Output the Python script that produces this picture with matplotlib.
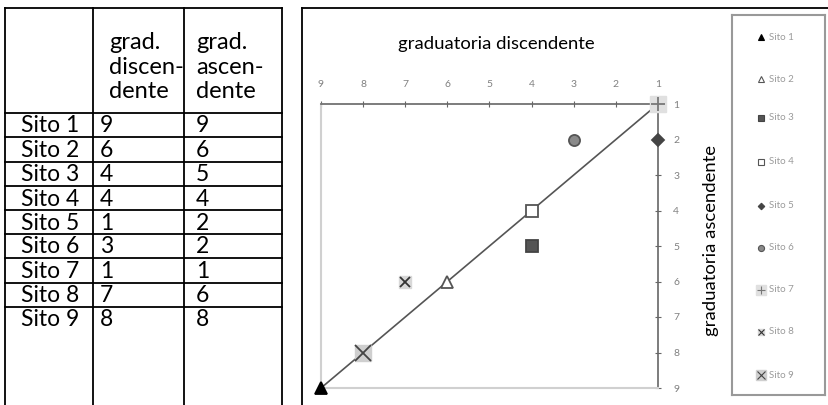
import matplotlib
matplotlib.use("Agg")
import matplotlib.pyplot as plt
from matplotlib.lines import Line2D

# ---------------- data ----------------
sites = ["Sito 1", "Sito 2", "Sito 3", "Sito 4", "Sito 5", "Sito 6", "Sito 7", "Sito 8", "Sito 9"]
grad_disc = [9, 6, 4, 4, 1, 3, 1, 7, 8]
grad_asc = [9, 6, 5, 4, 2, 2, 1, 6, 8]
header_disc = "grad.\ndiscen-\ndente"
header_asc = "grad.\nascen-\ndente"
ticks = [1, 2, 3, 4, 5, 6, 7, 8, 9]
diag = [1, 9]
title_top = "graduatoria discendente"
title_right = "graduatoria ascendente"

# marker styles per site: (marker, face, edge, size, background square)
styles = [
    ("^", "black", "black", 8, None),
    ("^", "white", "#555555", 8, None),
    ("s", "#555555", "#444444", 8, None),
    ("s", "white", "#555555", 9, None),
    ("D", "#444444", "#444444", 6, None),
    ("o", "#8a8a8a", "#555555", 8, None),
    ("+", "#777777", "#777777", 10, "#e0e0e0"),
    ("x", "#333333", "#333333", 7, "#d8d8d8"),
    ("x", "#444444", "#444444", 11, "#cfcfcf"),
]

W, H = 829, 405
fig = plt.figure(figsize=(W / 100, H / 100), dpi=100)
FONT = ["Lato", "DejaVu Sans"]

def fx(px):
    return px / W

def fy(py):
    return 1 - py / H

# ---------------- table ----------------
tl, tr = 5, 282
col_x = [5, 93, 184, 282]
row_y = [8, 113, 137, 162, 186, 210, 234, 258, 283, 307]
lw = 1.3
for y in row_y:
    fig.add_artist(Line2D([fx(tl), fx(tr)], [fy(y), fy(y)], color="black", lw=lw))
for x in col_x:
    fig.add_artist(Line2D([fx(x), fx(x)], [fy(8), fy(405)], color="black", lw=lw))

fig.text(fx(109), fy(67), header_disc, fontsize=17, family=FONT, ha="left", va="center",
         linespacing=1.2)
fig.text(fx(196), fy(67), header_asc, fontsize=17, family=FONT, ha="left", va="center",
         linespacing=1.2)
for i, s in enumerate(sites):
    yc = (row_y[i + 1] + (row_y[i + 2] if i + 2 < len(row_y) else 331)) / 2 + 1
    fig.text(fx(21), fy(yc), s, fontsize=16.5, family=FONT, ha="left", va="center")
    fig.text(fx(100), fy(yc), str(grad_disc[i]), fontsize=16.5, family=FONT, ha="left", va="center")
    fig.text(fx(196), fy(yc), str(grad_asc[i]), fontsize=16.5, family=FONT, ha="left", va="center")

# ---------------- chart outer frame ----------------
fig.add_artist(Line2D([fx(302), fx(829)], [fy(8), fy(8)], color="black", lw=1.3))
fig.add_artist(Line2D([fx(302), fx(302)], [fy(8), fy(405)], color="black", lw=1.3))

# ---------------- scatter axes ----------------
x0, x1, y0, y1 = 321, 658, 104, 388
ax = fig.add_axes([fx(x0), fy(y1), fx(x1) - fx(x0), fy(y0) - fy(y1)])
ax.set_xlim(9, 1)
ax.set_ylim(9, 1)
ax.plot(diag, diag, color="#555555", lw=1.2, zorder=2)
for i in range(len(sites)):
    m, fc, ec, ms, bg = styles[i]
    if bg is not None:
        ax.plot(grad_disc[i], grad_asc[i], "s", ms=ms + 1, mfc=bg, mec=bg, clip_on=False, zorder=3)
    ax.plot(grad_disc[i], grad_asc[i], m, ms=ms, mfc=fc, mec=ec, mew=1.3, clip_on=False, zorder=4)

ax.xaxis.tick_top()
ax.yaxis.tick_right()
ax.set_xticks(ticks)
ax.set_yticks(ticks)
ax.tick_params(axis="both", direction="inout", length=4, width=0.8, color="#666666",
               labelsize=7.5, labelcolor="#808080", pad=9)
ax.spines["top"].set_color("#666666")
ax.spines["right"].set_color("#666666")
ax.spines["top"].set_linewidth(1.2)
ax.spines["right"].set_linewidth(1.2)
ax.spines["left"].set_color("#d0d0d0")
ax.spines["bottom"].set_color("#d0d0d0")
ax.spines["left"].set_linewidth(1.5)
ax.spines["bottom"].set_linewidth(1.5)
for lab in ax.get_xticklabels() + ax.get_yticklabels():
    lab.set_family(FONT)

fig.text(fx(496), fy(44), title_top, fontsize=13.3, family=FONT, ha="center", va="center")
fig.text(fx(711), fy(241), title_right, fontsize=13.3, family=FONT, ha="center", va="center",
         rotation=90)

# ---------------- legend ----------------
lax = fig.add_axes([fx(732), fy(395), fx(825) - fx(732), fy(15) - fy(395)])
lax.set_xlim(732, 825)
lax.set_ylim(395, 15)
lax.set_xticks([])
lax.set_yticks([])
for sp in lax.spines.values():
    sp.set_color("#999999")
    sp.set_linewidth(1.5)
leg_y = [37, 79, 118, 162, 206, 248, 290, 332, 375]
for i in range(len(sites)):
    m, fc, ec, ms, bg = styles[i]
    ms_l = ms * 0.55
    if bg is not None:
        lax.plot(761, leg_y[i], "s", ms=ms_l + 1, mfc=bg, mec=bg)
    lax.plot(761, leg_y[i], m, ms=ms_l, mfc=fc, mec=ec, mew=0.8)
    lax.text(769, leg_y[i], sites[i], fontsize=7, color="#9a9a9a", family=FONT,
             ha="left", va="center")

fig.savefig("out.png", dpi=100)
